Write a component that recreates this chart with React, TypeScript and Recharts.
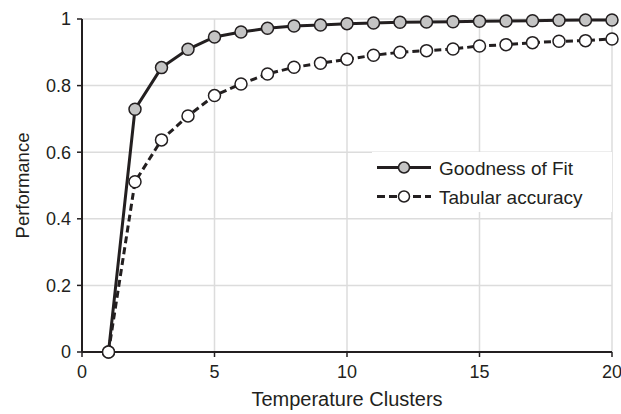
import {
  LineChart,
  Line,
  XAxis,
  YAxis,
  CartesianGrid,
  Label,
} from 'recharts'

const clusters = [1, 2, 3, 4, 5, 6, 7, 8, 9, 10, 11, 12, 13, 14, 15, 16, 17, 18, 19, 20]
const goodnessOfFit = [
  0, 0.729, 0.854, 0.909, 0.946, 0.961, 0.972, 0.979, 0.982, 0.986, 0.988, 0.99, 0.991, 0.992,
  0.993, 0.994, 0.995, 0.996, 0.997, 0.997,
]
const tabularAccuracy = [
  0, 0.511, 0.637, 0.709, 0.77, 0.805, 0.835, 0.855, 0.867, 0.879, 0.891, 0.9, 0.905, 0.91,
  0.919, 0.923, 0.929, 0.933, 0.935, 0.94,
]
const xTicks = [0, 5, 10, 15, 20]
const yTicks = [0, 0.2, 0.4, 0.6, 0.8, 1]

const data = clusters.map((c, i) => ({
  clusters: c,
  gof: goodnessOfFit[i],
  tab: tabularAccuracy[i],
}))

const INK = '#231f20'
const FONT = '"Liberation Sans", Arial, sans-serif'

// legend drawn as overlay, a Recharts <Legend> would shrink the plot area
function LegendBox() {
  const rows = [
    { label: 'Goodness of Fit', fill: '#c4c4c4', dash: undefined },
    { label: 'Tabular accuracy', fill: '#ffffff', dash: '8 4' },
  ]
  return (
    <svg width={240} height={60} style={{ position: 'absolute', left: 372, top: 152 }}>
      <rect x={0} y={0} width={240} height={60} fill="#fff" />
      {rows.map((r, i) => {
        const y = 15.5 + i * 29
        return (
          <g key={r.label}>
            <line x1={5} x2={59} y1={y} y2={y} stroke={INK} strokeWidth={3} strokeDasharray={r.dash} />
            <circle cx={32} cy={y} r={5.5} fill={r.fill} stroke={INK} strokeWidth={1.5} />
            <text x={67} y={y + 7} fontSize={19} fill={INK} fontFamily={FONT}>
              {r.label}
            </text>
          </g>
        )
      })}
    </svg>
  )
}

export default function App() {
  return (
    <div style={{ position: 'absolute', left: 0, top: 0, width: 621, height: 414, background: '#fff', fontFamily: FONT }}>
      <LineChart width={621} height={414} data={data} margin={{ top: 19, right: 9, bottom: 12, left: 0 }}>
        <CartesianGrid stroke="#dcdcdc" strokeWidth={1.5} />
        <XAxis
          dataKey="clusters"
          type="number"
          domain={[0, 20]}
          ticks={xTicks}
          height={50}
          tickSize={5}
          tickMargin={8}
          axisLine={{ stroke: INK, strokeWidth: 2 }}
          tickLine={{ stroke: INK, strokeWidth: 1.5 }}
          tick={{ fill: INK, fontSize: 18, fontFamily: FONT }}
        >
          <Label value="Temperature Clusters" position="insideBottom" offset={-4} fill={INK} fontSize={20} fontFamily={FONT} />
        </XAxis>
        <YAxis
          type="number"
          domain={[0, 1]}
          ticks={yTicks}
          width={82}
          tickSize={5}
          tickMargin={6}
          axisLine={{ stroke: INK, strokeWidth: 2 }}
          tickLine={{ stroke: INK, strokeWidth: 1.5 }}
          tick={{ fill: INK, fontSize: 18, fontFamily: FONT }}
        >
          <Label value="Performance" angle={-90} position="insideLeft" offset={22} fill={INK} fontSize={18.5} fontFamily={FONT} style={{ textAnchor: 'middle' }} />
        </YAxis>
        <Line
          dataKey="gof"
          name="Goodness of Fit"
          stroke={INK}
          strokeWidth={3}
          dot={{ r: 6, fill: '#c4c4c4', stroke: INK, strokeWidth: 1.5 }}
          isAnimationActive={false}
        />
        <Line
          dataKey="tab"
          name="Tabular accuracy"
          stroke={INK}
          strokeWidth={3}
          strokeDasharray="7 4"
          dot={{ r: 6, fill: '#fff', stroke: INK, strokeWidth: 1.5, strokeDasharray: '0' }}
          isAnimationActive={false}
        />
      </LineChart>
      <LegendBox />
    </div>
  )
}
